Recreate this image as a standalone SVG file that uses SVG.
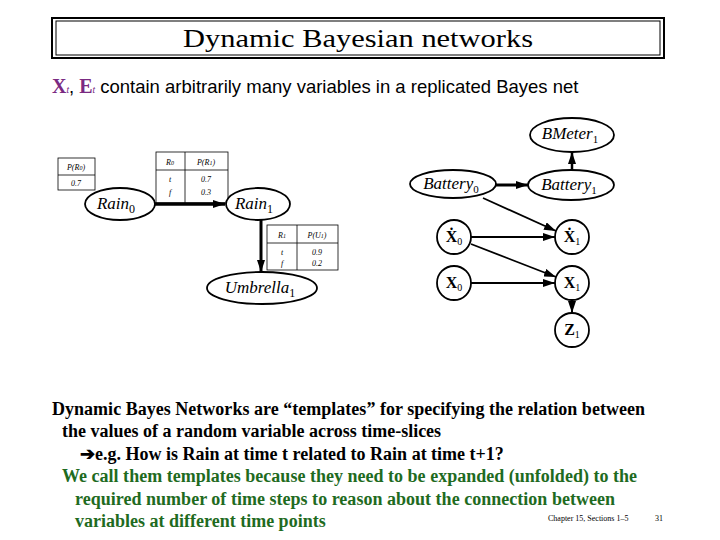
<svg xmlns="http://www.w3.org/2000/svg" width="720" height="540" viewBox="0 0 720 540">
<defs>
<marker id="ahs" viewBox="0 0 10 10" refX="10" refY="5" markerWidth="12" markerHeight="8" orient="auto" markerUnits="userSpaceOnUse" preserveAspectRatio="none"><path d="M0,0 L10,5 L0,10 z" fill="#000"/></marker>
</defs>
<style>
.n{fill:#fff;stroke:#000;stroke-width:1.8}
.t{fill:none;stroke:#000;stroke-width:0.8}
.lab{font-family:"Liberation Serif",serif;font-style:italic;font-size:17px;text-anchor:middle}
.vb{font-family:"Liberation Serif",serif;font-weight:bold;font-size:16px;text-anchor:middle}
.tb{font-family:"Liberation Serif",serif;font-style:italic;font-size:8px;text-anchor:middle}
.c{stroke:#000;fill:none;marker-end:url(#ahs)}
.bt{font-family:"Liberation Serif",serif;font-weight:bold;font-size:18px}
</style>
<rect width="720" height="540" fill="#fff"/>
<g id="title">
<rect x="52" y="18" width="612" height="40" fill="none" stroke="#000" stroke-width="2"/>
<rect x="56" y="21" width="604" height="34" fill="none" stroke="#000" stroke-width="1"/>
<text x="358" y="47" font-family="Liberation Serif,serif" font-size="25" text-anchor="middle" textLength="350" lengthAdjust="spacingAndGlyphs">Dynamic Bayesian networks</text>
</g>
<text x="52" y="93" font-family="Liberation Sans,sans-serif" font-size="18.5"><tspan font-family="Liberation Serif,serif" font-weight="bold" fill="#7a2a82" font-size="20">X</tspan><tspan font-size="9" fill="#7a2a82" font-style="italic">t</tspan><tspan>, </tspan><tspan font-family="Liberation Serif,serif" font-weight="bold" fill="#7a2a82" font-size="20">E</tspan><tspan font-size="9" fill="#7a2a82" font-style="italic">t</tspan><tspan> contain arbitrarily many variables in a replicated Bayes net</tspan></text>

<g id="tables">
<rect class="t" x="58" y="158" width="37" height="32"/><line class="t" x1="58" y1="175" x2="95" y2="175"/>
<text class="tb" x="76" y="170">P(R<tspan font-size="6">0</tspan>)</text><text class="tb" x="76" y="186" font-style="normal">0.7</text>
<rect class="t" x="156" y="152" width="72" height="51"/><line class="t" x1="156" y1="170" x2="228" y2="170"/><line class="t" x1="185" y1="152" x2="185" y2="203"/>
<text class="tb" x="170" y="165">R<tspan font-size="6">0</tspan></text><text class="tb" x="206" y="165">P(R<tspan font-size="6">1</tspan>)</text>
<text class="tb" x="170" y="182">t</text><text class="tb" x="170" y="195">f</text>
<text class="tb" x="206" y="182" font-style="normal">0.7</text><text class="tb" x="206" y="195" font-style="normal">0.3</text>
<rect class="t" x="267" y="225" width="71" height="45"/><line class="t" x1="267" y1="243" x2="338" y2="243"/><line class="t" x1="297" y1="225" x2="297" y2="270"/>
<text class="tb" x="282" y="238">R<tspan font-size="6">1</tspan></text><text class="tb" x="317" y="238">P(U<tspan font-size="6">1</tspan>)</text>
<text class="tb" x="282" y="255">t</text><text class="tb" x="282" y="266">f</text>
<text class="tb" x="317" y="255" font-style="normal">0.9</text><text class="tb" x="317" y="266" font-style="normal">0.2</text>
</g>

<g id="connectors">
<line x1="155" y1="204" x2="225" y2="204" stroke="#000" stroke-width="3.5" marker-end="url(#ahs)"/>
<line x1="261" y1="220" x2="261" y2="272" stroke="#000" stroke-width="3" marker-end="url(#ahs)"/>
<line class="c" stroke-width="2.5" x1="572" y1="170" x2="572" y2="152"/>
<line class="c" stroke-width="3" x1="496" y1="185" x2="528" y2="185"/>
<line class="c" stroke-width="1.8" x1="483" y1="198" x2="556" y2="231"/>
<line class="c" stroke-width="2.2" x1="471" y1="237" x2="555" y2="237"/>
<line class="c" stroke-width="1.8" x1="471" y1="244" x2="556" y2="277"/>
<line class="c" stroke-width="2.2" x1="471" y1="283" x2="555" y2="283"/>
<line class="c" stroke-width="2" x1="572" y1="300" x2="572" y2="313"/>
</g>

<g id="rain0"><ellipse class="n" cx="120" cy="204" rx="35" ry="16"/><text class="lab" x="116" y="209">Rain<tspan font-style="normal" font-size="12" dy="4">0</tspan></text></g>
<g id="rain1"><ellipse class="n" cx="258" cy="204" rx="32" ry="16"/><text class="lab" x="254" y="209">Rain<tspan font-style="normal" font-size="12" dy="4">1</tspan></text></g>
<g id="umbrella1"><ellipse class="n" cx="262" cy="288" rx="55" ry="16"/><text class="lab" x="260" y="293">Umbrella<tspan font-style="normal" font-size="12" dy="4">1</tspan></text></g>
<g id="bmeter1"><ellipse class="n" cx="572" cy="135" rx="42" ry="17"/><text class="lab" x="570" y="139" font-size="15">BMeter<tspan font-style="normal" font-size="11" dy="4">1</tspan></text></g>
<g id="battery0"><ellipse class="n" cx="453" cy="184" rx="43" ry="14"/><text class="lab" x="451" y="189" font-size="15">Battery<tspan font-style="normal" font-size="11" dy="4">0</tspan></text></g>
<g id="battery1"><ellipse class="n" cx="571" cy="185" rx="43" ry="15"/><text class="lab" x="569" y="190" font-size="15">Battery<tspan font-style="normal" font-size="11" dy="4">1</tspan></text></g>
<g id="xdot0"><circle class="n" cx="454" cy="237" r="17"/><text class="vb" x="454" y="242">Ẋ<tspan font-weight="normal" font-size="10" dy="3">0</tspan></text></g>
<g id="xdot1"><circle class="n" cx="572" cy="237" r="17"/><text class="vb" x="572" y="242">Ẋ<tspan font-weight="normal" font-size="10" dy="3">1</tspan></text></g>
<g id="x0"><circle class="n" cx="454" cy="283" r="17"/><text class="vb" x="454" y="288">X<tspan font-weight="normal" font-size="10" dy="3">0</tspan></text></g>
<g id="x1"><circle class="n" cx="572" cy="283" r="17"/><text class="vb" x="572" y="288">X<tspan font-weight="normal" font-size="10" dy="3">1</tspan></text></g>
<g id="z1"><circle class="n" cx="572" cy="330" r="17"/><text class="vb" x="572" y="335">Z<tspan font-weight="normal" font-size="10" dy="3">1</tspan></text></g>

<g id="body">
<text class="bt" x="52" y="415" textLength="593">Dynamic Bayes Networks are “templates” for specifying the relation between</text>
<text class="bt" x="62" y="437">the  values of a random variable across time-slices</text>
<text class="bt" x="80" y="460">➔e.g. How is Rain at time t related to Rain at time t+1?</text>
<text class="bt" x="62" y="482" fill="#1f6b1f" textLength="575">We call them templates because they need to be expanded (unfolded) to the</text>
<text class="bt" x="75" y="505" fill="#1f6b1f" textLength="540">required number of time steps to reason about the connection between</text>
<text class="bt" x="75" y="527" fill="#1f6b1f">variables at different time points</text>
<text x="548" y="521" font-family="Liberation Serif,serif" font-size="8">Chapter 15, Sections 1–5</text>
<text x="655" y="521" font-family="Liberation Serif,serif" font-size="8">31</text>
</g>
</svg>
